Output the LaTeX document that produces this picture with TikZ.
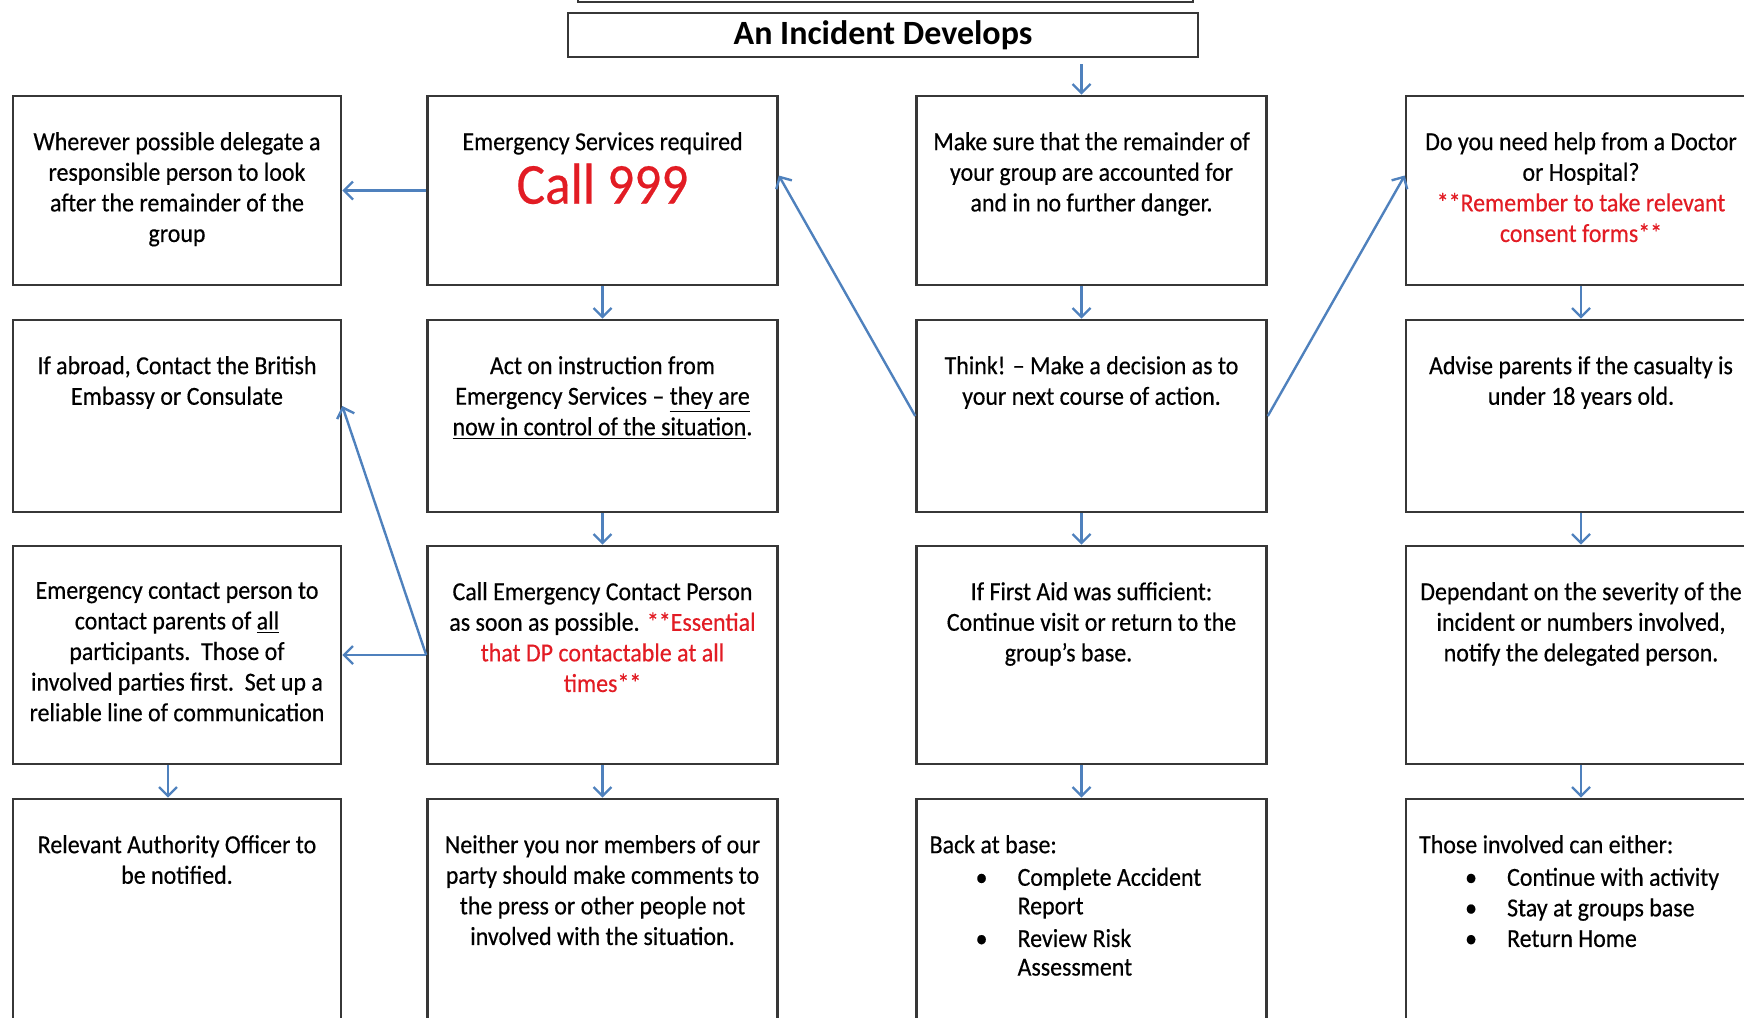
\documentclass[tikz,border=0pt]{standalone}
\usepackage{fontspec}
\setmainfont{Carlito}[FakeStretch=0.92, FakeBold=0.4]
\newfontfamily\headfont{Carlito}
\usetikzlibrary{arrows.meta}
\usetikzlibrary{positioning}

\definecolor{flowblue}{RGB}{79,129,189}
\definecolor{alertred}{RGB}{226,28,36}
\definecolor{edge}{RGB}{55,55,55}

\newcommand{\itembul}{\hspace*{23pt}\makebox[21pt][l]{\textbullet}}
\newcommand{\itemcont}{\hspace*{44pt}}

\tikzset{
	stepbox/.style={
		draw=edge,
		line width=1.3pt,
		inner sep=0pt,
	},
	boxtext/.style={
		anchor=north,
		inner sep=0pt,
		align=center,
		yshift=-18.5pt,
		font=\fontsize{13}{15.3}\selectfont,
	},
	listtext/.style={
		boxtext,
		anchor=north west,
		align=left,
	},
	flow/.style={
		draw=flowblue,
		line width=1.2pt,
		-{Straight Barb[length=4.5pt,width=9pt]}
	},
}

\begin{document}
\begin{tikzpicture}[
		x=0.5pt, y=-0.5pt,
		narrow/.style={stepbox, minimum width=164pt},
		wide/.style={stepbox, minimum width=175pt},
		rowa/.style={minimum height=94.5pt},
		rowb/.style={minimum height=96pt},
		rowc/.style={minimum height=109pt},
		rowd/.style={minimum height=120pt},
	]
		\useasboundingbox (0,0) rectangle (1744,1017);
		\clip (0,0) rectangle (1744,1017);

		% heading
		\node[stepbox, minimum width=307.5pt, minimum height=22pt] (prev) at (885.5,-20) {};
		\node[stepbox, minimum width=315pt, minimum height=22pt,
			font=\headfont\bfseries\fontsize{17}{20}\selectfont] (title) at (883,35) {An Incident Develops};

		% boxes
		\node[narrow, rowa] (del)    at (177,190.5)  {};
		\node[wide, rowa]   (es)     at (602.5,190.5) {};
		\node[wide, rowa]   (mk)     at (1091.5,190.5) {};
		\node[wide, rowa]   (dr)     at (1581,190.5) {};

		\node[narrow, rowb] (abr)    at (177,416)  {};
		\node[wide, rowb]   (act)    at (602.5,416) {};
		\node[wide, rowb]   (think)  at (1091.5,416) {};
		\node[wide, rowb]   (adv)    at (1581,416) {};

		\node[narrow, rowc] (ecp)    at (177,655)  {};
		\node[wide, rowc]   (cec)    at (602.5,655) {};
		\node[wide, rowc]   (fa)     at (1091.5,655) {};
		\node[wide, rowc]   (dep)    at (1581,655) {};

		\node[narrow, rowd] (rao)    at (177,919)  {};
		\node[wide, rowd]   (press)  at (602.5,919) {};
		\node[wide, rowd]   (base)   at (1091.5,919) {};
		\node[wide, rowd]   (either) at (1581,919) {};

		% texts
		\node[boxtext] (del-t) at (del.north) {Wherever possible delegate a\\responsible person to look\\after the remainder of the\\group};
		\node[boxtext] (es-t) at (es.north) {Emergency Services required};
		\node[inner sep=0pt, text=alertred, font=\fontsize{29}{32}\selectfont, below=4pt of es-t] (call) {Call 999};
		\node[boxtext] (mk-t) at (mk.north) {Make sure that the remainder of\\your group are accounted for\\and in no further danger.};
		\node[boxtext] (dr-t) at (dr.north) {Do you need help from a Doctor\\or Hospital?\\\textcolor{alertred}{**Remember to take relevant}\\\textcolor{alertred}{consent forms**}};

		\node[boxtext] (abr-t) at (abr.north) {If abroad, Contact the British\\Embassy or Consulate};
		\node[boxtext] (act-t) at (act.north) {Act on instruction from\\Emergency Services \textendash{} \underline{they are}\\\underline{now in control of the situation}.};
		\node[boxtext] (think-t) at (think.north) {Think! \textendash{} Make a decision as to\\your next course of action.};
		\node[boxtext] (adv-t) at (adv.north) {Advise parents if the casualty is\\under 18 years old.};

		\node[boxtext] (ecp-t) at (ecp.north) {Emergency contact person to\\contact parents of \underline{all}\\participants.\ \ Those of\\involved parties first.\ \ Set up a\\reliable line of communication};
		\node[boxtext] (cec-t) at (cec.north) {Call Emergency Contact Person\\as soon as possible. \textcolor{alertred}{**Essential}\\\textcolor{alertred}{that DP contactable at all}\\\textcolor{alertred}{times**}};
		\node[boxtext] (fa-t) at (fa.north) {If First Aid was sufficient:\\Continue visit or return to the\\group's base.\hspace*{23pt}};
		\node[boxtext] (dep-t) at (dep.north) {Dependant on the severity of the\\incident or numbers involved,\\notify the delegated person.};

		\node[boxtext] (rao-t) at (rao.north) {Relevant Authority Officer to\\be notified.};
		\node[boxtext] (press-t) at (press.north) {Neither you nor members of our\\party should make comments to\\the press or other people not\\involved with the situation.};
		\node[listtext] (base-t) at ([xshift=7pt]base.north west) {Back at base:\\[1pt]\itembul Complete Accident\\[-1pt]\itemcont Report\\[1pt]\itembul Review Risk\\[-1pt]\itemcont Assessment};
		\node[listtext] (either-t) at ([xshift=7pt]either.north west) {Those involved can either:\\[1pt]\itembul Continue with activity\\[0pt]\itembul Stay at groups base\\[0pt]\itembul Return Home};

		% connectors
		\coordinate (mk-in) at ([xshift=-5pt]mk.north);
		\draw[flow, shorten <=3pt] (title.south -| mk-in) -- (mk-in);
		\draw[flow] (es.west) -- (del.east);
		\draw[flow] (es.south) -- (act.north);
		\draw[flow] (act.south) -- (cec.north);
		\draw[flow] (cec.south) -- (press.north);
		\draw[flow] (cec.west) -- (ecp.east);
		\draw[flow] (cec.west) -- ([yshift=5pt]abr.east);
		\draw[flow] ([xshift=-4.5pt]ecp.south) -- ([xshift=-4.5pt]rao.north);
		\draw[flow] ([xshift=-5pt]mk.south) -- ([xshift=-5pt]think.north);
		\draw[flow] ([xshift=-5pt]think.south) -- ([xshift=-5pt]fa.north);
		\draw[flow] ([xshift=-5pt]fa.south) -- ([xshift=-5pt]base.north);
		\draw[flow] (think.west) -- ([yshift=7.5pt]es.east);
		\draw[flow] (think.east) -- ([yshift=7.5pt]dr.west);
		\draw[flow] (dr.south) -- (adv.north);
		\draw[flow] (adv.south) -- (dep.north);
		\draw[flow] (dep.south) -- (either.north);
	\end{tikzpicture}
\end{document}
